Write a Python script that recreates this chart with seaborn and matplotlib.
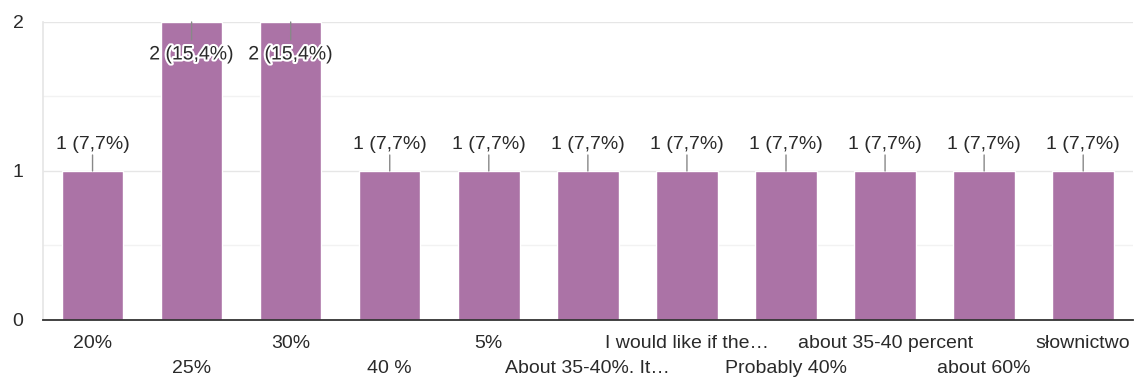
import matplotlib
matplotlib.use("Agg")
import matplotlib.pyplot as plt
import matplotlib.patheffects as pe
from matplotlib.ticker import MultipleLocator
import seaborn as sns
import pandas as pd

categories = ["20%", "25%", "30%", "40 %", "5%", "About 35-40%. It\u2026",
              "I would like if the\u2026", "Probably 40%", "about 35-40 percent",
              "about 60%", "s\u0142ownictwo"]
counts = [1, 2, 2, 1, 1, 1, 1, 1, 1, 1, 1]
labels = ["1 (7,7%)", "2 (15,4%)", "2 (15,4%)", "1 (7,7%)", "1 (7,7%)", "1 (7,7%)",
          "1 (7,7%)", "1 (7,7%)", "1 (7,7%)", "1 (7,7%)", "1 (7,7%)"]

sns.set_theme(style="white")
plt.rcParams['font.family'] = ['Liberation Sans', 'DejaVu Sans']

df = pd.DataFrame({"cat": categories, "n": counts})

fig = plt.figure(figsize=(11.35, 3.79), dpi=100)
ax = fig.add_axes([0.0379, 0.1557, 0.9601, 0.7863])

sns.barplot(data=df, x="cat", y="n", color="#ab73a6", saturation=1, width=0.62, ax=ax)

ax.set_xlim(-0.5, len(categories) - 0.5)
ax.set_ylim(0, 2)
ax.yaxis.set_major_locator(MultipleLocator(1))
ax.yaxis.set_minor_locator(MultipleLocator(0.5))
ax.grid(True, which="major", axis="y", color="#e6e6e6", lw=1)
ax.grid(True, which="minor", axis="y", color="#f2f2f2", lw=1)
ax.set_axisbelow(True)
for s in ["top", "right"]:
    ax.spines[s].set_visible(False)
ax.spines["left"].set_color("#e6e6e6")
ax.spines["bottom"].set_color("#333333")
ax.spines["bottom"].set_linewidth(1.3)
ax.spines["bottom"].set_zorder(5)

FS = 14
TC = "#2a2a2a"
ax.set_xlabel("")
ax.set_ylabel("")
ax.tick_params(axis="both", length=0, labelsize=FS, colors=TC)
ax.tick_params(axis="y", pad=14)
ax.tick_params(axis="y", which="minor", length=0)

for i, t in enumerate(ax.xaxis.get_major_ticks()):
    t.set_pad(10.5 if i % 2 == 0 else 29)

for p, lab, v in zip(ax.patches, labels, counts):
    xc = p.get_x() + p.get_width() / 2
    top = p.get_height()
    if v >= 2:
        ax.annotate("", xy=(xc, top), xytext=(0, -18), textcoords="offset pixels",
                    arrowprops=dict(arrowstyle="-", color="#888888", lw=1, shrinkA=0, shrinkB=0))
        ax.annotate(lab, xy=(xc, top), xytext=(0, -33), textcoords="offset pixels",
                    ha="center", va="center", fontsize=FS, color=TC,
                    path_effects=[pe.withStroke(linewidth=3, foreground="white")])
    else:
        ax.annotate("", xy=(xc, top), xytext=(0, 16), textcoords="offset pixels",
                    arrowprops=dict(arrowstyle="-", color="#888888", lw=1, shrinkA=0, shrinkB=0))
        ax.annotate(lab, xy=(xc, top), xytext=(0, 26), textcoords="offset pixels",
                    ha="center", va="center", fontsize=FS, color=TC)

fig.savefig("out.png", dpi=100)
